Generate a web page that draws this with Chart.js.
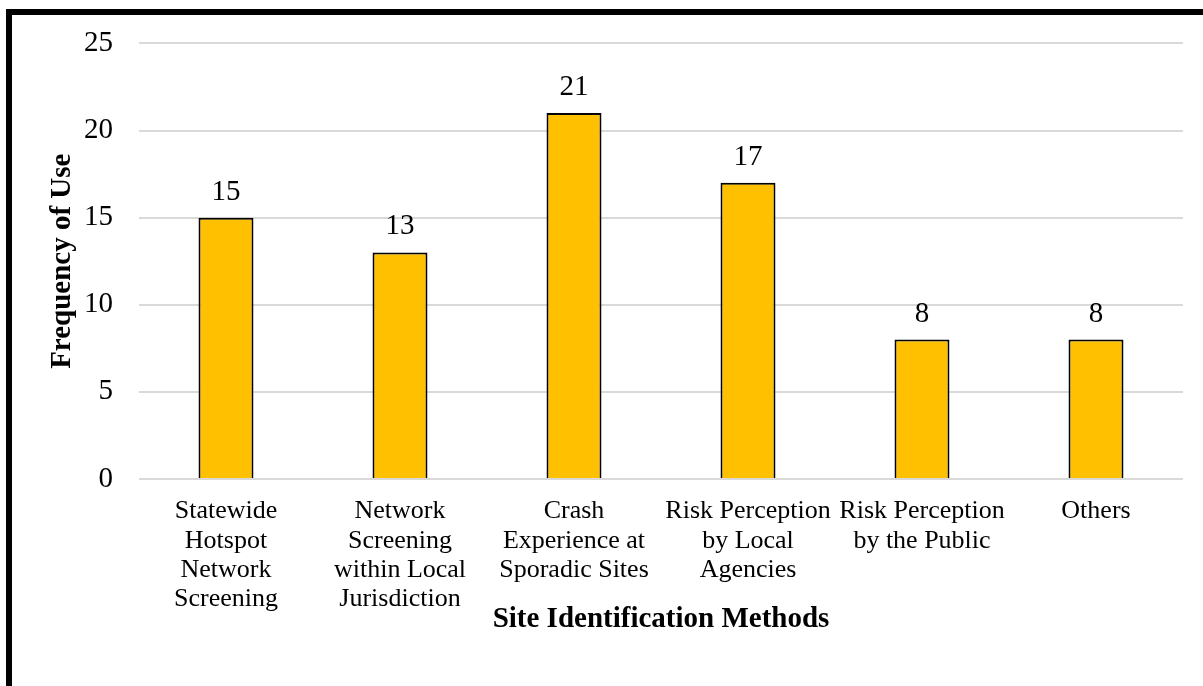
<!DOCTYPE html>
<html>
<head>
<meta charset="utf-8">
<script src="https://cdn.jsdelivr.net/npm/chart.js@4.4.0/dist/chart.umd.min.js"></script>
<style>
  html, body { margin: 0; padding: 0; background: #ffffff; overflow: hidden; }
  #wrap { position: relative; width: 1203px; height: 686px; }
  #frame { position: absolute; left: 6px; top: 9px; width: 1400px; height: 900px; border: 6px solid #000; box-sizing: border-box; }
  #c { position: absolute; left: 0; top: 0; }
</style>
</head>
<body>
<div id="wrap">
  <div id="frame"></div>
  <canvas id="c" width="1203" height="686"></canvas>
</div>
<script>
const categories = [
  ["Statewide", "Hotspot", "Network", "Screening"],
  ["Network", "Screening", "within Local", "Jurisdiction"],
  ["Crash", "Experience at", "Sporadic Sites"],
  ["Risk Perception", "by Local", "Agencies"],
  ["Risk Perception", "by the Public"],
  ["Others"]
];
const frequency = [15, 13, 21, 17, 8, 8];
const yTicks = [0, 5, 10, 15, 20, 25];
const yTitle = "Frequency of Use";
const xTitle = "Site Identification Methods";

const FONT = "'Liberation Serif', 'Times New Roman', serif";

const valueLabels = {
  id: 'valueLabels',
  afterDatasetsDraw(chart) {
    const ctx = chart.ctx;
    const meta = chart.getDatasetMeta(0);
    ctx.save();
    ctx.font = "29px " + FONT;
    ctx.fillStyle = '#000';
    ctx.textAlign = 'center';
    ctx.textBaseline = 'alphabetic';
    meta.data.forEach((bar, i) => {
      ctx.fillText(String(chart.data.datasets[0].data[i]), bar.x, bar.y - 18);
    });
    ctx.restore();
  }
};

new Chart(document.getElementById('c'), {
  type: 'bar',
  data: {
    labels: categories,
    datasets: [{
      data: frequency,
      backgroundColor: '#FFC000',
      borderColor: '#000000',
      borderWidth: 2,
      barPercentage: 0.316,
      categoryPercentage: 1.0
    }]
  },
  options: {
    responsive: false,
    animation: false,
    layout: { padding: { left: 45, right: 20, top: 42, bottom: 49 } },
    plugins: { legend: { display: false }, tooltip: { enabled: false } },
    scales: {
      x: {
        grid: { display: false, drawTicks: false },
        border: { display: false },
        ticks: {
          color: '#000',
          padding: 18,
          maxRotation: 0,
          autoSkip: false,
          font: { family: FONT, size: 26, lineHeight: 1.127 }
        },
        title: {
          display: true, text: xTitle, color: '#000',
          padding: { top: 0, bottom: 0 },
          font: { family: FONT, size: 29, weight: 'bold' }
        },
        afterFit(scale) { scale.height = 158; }
      },
      y: {
        min: 0, max: 25,
        afterBuildTicks(scale) { scale.ticks = yTicks.map(v => ({ value: v })); },
        grid: { color: '#d9d9d9', lineWidth: 2, drawTicks: false },
        border: { display: false },
        ticks: {
          color: '#000',
          padding: 26,
          font: { family: FONT, size: 29 }
        },
        title: {
          display: true, text: yTitle, color: '#000',
          padding: { top: 0, bottom: 0 },
          font: { family: FONT, size: 29, weight: 'bold' }
        },
        afterFit(scale) { scale.width = 94; }
      }
    }
  },
  plugins: [valueLabels]
});
</script>
</body>
</html>
